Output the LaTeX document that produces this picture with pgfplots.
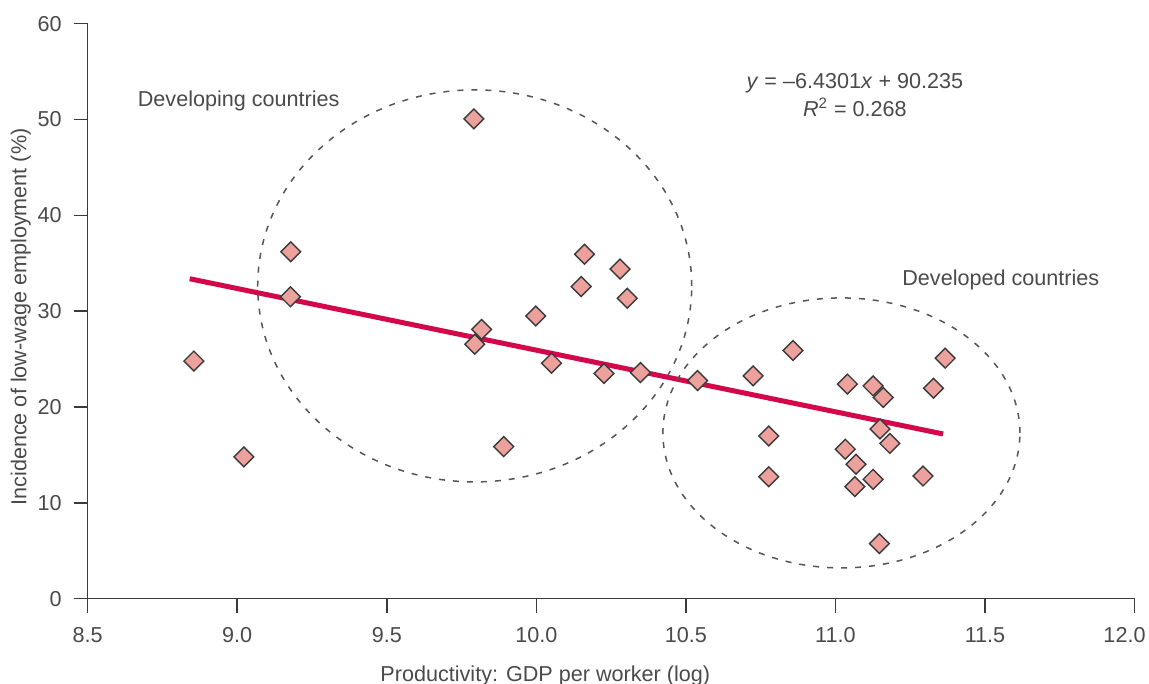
\documentclass[border=0pt]{standalone}
\usepackage{pgfplots}
\pgfplotsset{compat=1.18}
\usepackage{fontspec}
\setmainfont{Liberation Sans}
\definecolor{txt}{HTML}{4A4A4A}
\definecolor{axc}{HTML}{3A3A3A}
\definecolor{reg}{HTML}{D2084B}
\definecolor{mk}{HTML}{EDA19D}
\definecolor{edge}{HTML}{3A3A3A}
\definecolor{dashc}{HTML}{555555}
\begin{document}
\begin{tikzpicture}
\begin{axis}[
  scale only axis, width=523.4pt, height=287.5pt,
  xmin=8.5, xmax=12, ymin=0, ymax=60,
  axis x line*=bottom, axis y line*=left,
  axis line style={line width=0.75pt, color=axc, -},
  tick style={line width=0.75pt, color=axc},
  major tick length=7pt, tick align=outside,
  xtick={8.5,9,9.5,10,10.5,11,11.5,12},
  xticklabels={8.5,9.0,9.5,10.0,10.5,11.0,11.5,\hspace*{-10pt}12.0},
  ytick={0,10,20,30,40,50,60},
  yticklabels={0,10,20,30,40,50,60},
  tick label style={font=\fontsize{10.8}{13}\selectfont, text=txt},
  yticklabel style={xshift=-2.5pt},
  xticklabel style={yshift=-4pt, inner xsep=0pt},
  clip=false,
]
\addplot[only marks, mark=square*, mark size=3.5pt,
  mark options={rotate=45, fill=mk, draw=edge, line width=0.7pt}] table {
x y
8.855 24.8
9.022 14.8
9.179 36.2
9.178 31.5
9.791 50.07
9.817 28.1
9.794 26.55
9.998 29.5
10.161 35.95
10.150 32.57
10.280 34.4
10.304 31.36
10.051 24.57
10.226 23.5
10.348 23.6
9.891 15.87
10.539 22.76
10.725 23.25
10.858 25.9
10.777 16.98
10.777 12.73
11.040 22.4
11.126 22.2
11.160 21.0
11.367 25.1
11.328 21.96
11.149 17.7
11.182 16.2
11.033 15.6
11.069 14.03
11.065 11.7
11.126 12.46
11.293 12.8
11.147 5.74
};
\addplot[line width=2.5pt, color=reg] coordinates {(8.841,33.387) (11.36,17.189)};
\draw[dashc, line width=0.75pt, dash pattern=on 3pt off 4pt] (axis cs:9.794,32.64) ellipse [x radius=108.5pt, y radius=98pt];
\draw[dashc, line width=0.75pt, dash pattern=on 3pt off 4pt] (axis cs:11.02,17.3) ellipse [x radius=89.25pt, y radius=67.5pt];
\node[text=txt, font=\fontsize{10.8}{13}\selectfont] at (axis cs:9.005,51.9) {Developing countries};
\node[text=txt, font=\fontsize{10.8}{13}\selectfont] at (axis cs:11.553,33.27) {Developed countries};
\node[text=txt, font=\fontsize{10.8}{14}\selectfont, align=center] at (axis cs:11.065,52.6) {\textit{y} = –6.4301\textit{x} + 90.235\\\textit{R}\textsuperscript{2} = 0.268};
\node[text=txt, font=\fontsize{10.8}{13}\selectfont, anchor=base] at ([yshift=-41.5pt]axis cs:10.03,0) {Productivity: GDP per worker (log)};
\node[text=txt, font=\fontsize{10.8}{13}\selectfont, rotate=90] at ([xshift=-33.5pt]axis cs:8.5,29.4) {Incidence of low-wage employment (\%)};
\coordinate (BL) at (rel axis cs:0,0);
\coordinate (TR) at (rel axis cs:1,1);
\end{axis}
\pgfresetboundingbox
\path ([shift={(-43.85pt,-42.65pt)}]BL) rectangle ([shift={(7.25pt,11.85pt)}]TR);
\end{tikzpicture}
\end{document}
